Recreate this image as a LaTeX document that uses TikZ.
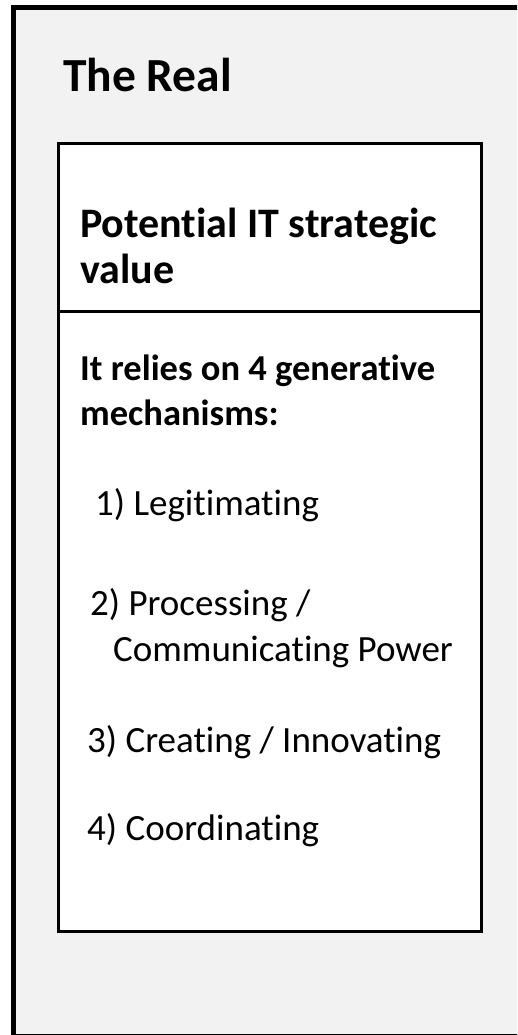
\documentclass[tikz,border=0pt]{standalone}
\usepackage{fontspec}
\setmainfont{Carlito}[Ligatures=NoCommon]
\definecolor{panelgray}{HTML}{F2F2F2}
\begin{document}
\begin{tikzpicture}[x=1pt,y=-1pt,
  txt/.style={anchor=base west,inner sep=0pt,font=\fontsize{37}{44}\selectfont},
  hd/.style={anchor=base west,inner sep=0pt,font=\fontsize{42}{48}\selectfont\bfseries},
  sub/.style={anchor=base west,inner sep=0pt,font=\fontsize{36.5}{44}\selectfont\bfseries},
  ttl/.style={anchor=base west,inner sep=0pt,font=\fontsize{47.5}{56}\selectfont\bfseries}]
\useasboundingbox (0,0) rectangle (517,1035);
\clip (0,0) rectangle (517,1035);
\draw[line width=5pt,fill=panelgray] (13.5,8) rectangle (521,1036.5);
\node[ttl] (title) at (63,92) {The Real};
\draw[line width=3pt,fill=white] (58,144) rectangle (481.5,931);
\coordinate (dl) at (58,311);
\coordinate (dr) at (481.5,311);
\draw[line width=3pt] (dl) -- (dr);
\node[hd] (h1) at (80,237) {Potential IT strategic};
\node[hd] (h2) at (80,283) {value};
\node[sub] (r1) at (80,380) {It relies on 4 generative};
\node[sub] (r2) at (80,425) {mechanisms:};
\node[txt] (m1) at (95,515) {1) Legitimating};
\node[txt] (m2a) at (90,615) {2) Processing /};
\node[txt] (m2b) at (113,661) {Communicating Power};
\node[txt] (m3) at (87,752) {3) Creating / Innovating};
\node[txt] (m4) at (87,840) {4) Coordinating};
\end{tikzpicture}
\end{document}
